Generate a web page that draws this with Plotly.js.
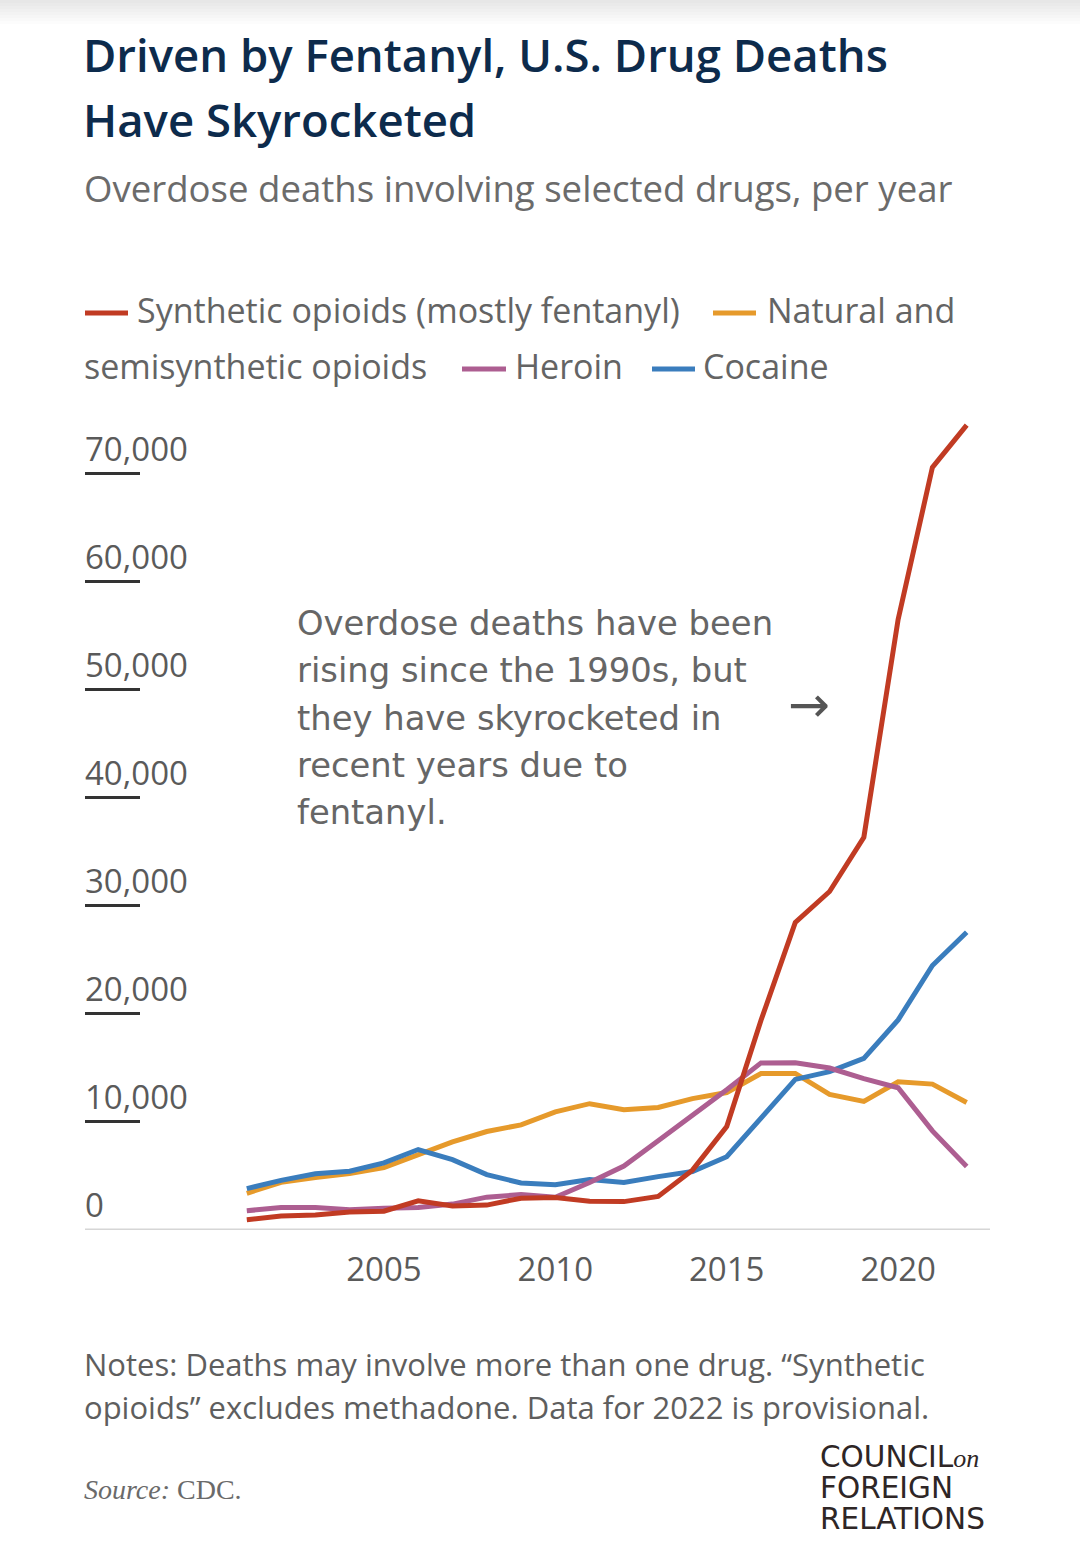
<!DOCTYPE html>
<html>
<head>
<meta charset="utf-8">
<script src="https://cdn.plot.ly/plotly-3.0.1.min.js"></script>
<style>
  html, body { margin: 0; padding: 0; background: #ffffff; }
  #chart { width: 1080px; height: 1556px; }
</style>
</head>
<body>
<div id="chart"></div>
<script>
// Overdose deaths per year by drug involved (CDC)
const years = [2001, 2002, 2003, 2004, 2005, 2006, 2007, 2008, 2009, 2010, 2011,
               2012, 2013, 2014, 2015, 2016, 2017, 2018, 2019, 2020, 2021, 2022];
const syntheticOpioids = [957, 1295, 1400, 1664, 1742, 2707, 2213, 2306, 2946, 3007, 2666,
                          2628, 3105, 5544, 9580, 19413, 28466, 31335, 36359, 56516, 70601, 74500];
const naturalOpioids = [3401, 4410, 4867, 5231, 5774, 7017, 8158, 9119, 9735, 10943, 11693,
                        11140, 11346, 12159, 12727, 14487, 14495, 12552, 11904, 13722, 13503, 11800];
const heroin = [1779, 2089, 2080, 1878, 2009, 2088, 2399, 3041, 3278, 3036, 4397,
                5925, 8257, 10574, 12989, 15469, 15482, 14996, 14019, 13165, 9173, 5871];
const cocaine = [3833, 4599, 5199, 5443, 6208, 7448, 6512, 5129, 4350, 4183, 4681,
                 4404, 4944, 5415, 6784, 10375, 13942, 14666, 15883, 19447, 24486, 27569];

const seriesNames = ['Synthetic opioids (mostly fentanyl)', 'Natural and semisynthetic opioids', 'Heroin', 'Cocaine'];
const seriesColors = ['#c13b23', '#e69a2b', '#ad5e91', '#3a7dbd'];

const yTickVals = [0, 10000, 20000, 30000, 40000, 50000, 60000, 70000];
const xTickVals = [2005, 2010, 2015, 2020];

const titleLines = ['Driven by Fentanyl, U.S. Drug Deaths', 'Have Skyrocketed'];
const subtitleText = 'Overdose deaths involving selected drugs, per year';
const calloutLines = ['Overdose deaths have been', 'rising since the 1990s, but',
                      'they have skyrocketed in', 'recent years due to', 'fentanyl.'];
const noteLines = ['Notes: Deaths may involve more than one drug. \u201cSynthetic',
                   'opioids\u201d excludes methadone. Data for 2022 is provisional.'];
const sourceText = '<i>Source:</i> CDC.';
const markLines = ['COUNCIL<span style="font-family:\'Liberation Serif\',serif;font-style:italic;font-size:26px">on</span>',
                   'FOREIGN', 'RELATIONS'];

// Plot box in page pixels
const FIG_W = 1080, FIG_H = 1556;
const L = 85, R = 990, T = 409, B = 1230;
const W = R - L, H = B - T;
const px = x => (x - L) / W;
const py = y => (B - y) / H;

const SANS = '"Open Sans", "Noto Sans", sans-serif';
const WIDE = '"DejaVu Sans", "Open Sans", sans-serif';
const GREY = '#646464';

// Multi-line text: the base font size sets the line pitch (1.3em),
// the inner spans set the glyph size.
function stack(lines, glyphSize) {
  return lines.map(s => '<span style="font-size:' + glyphSize + 'px">' + s + '</span>').join('<br>');
}

// draw order: orange, blue, purple, red on top
const drawOrder = [1, 3, 2, 0];
const seriesData = [syntheticOpioids, naturalOpioids, heroin, cocaine];
const traces = drawOrder.map(i => ({
  type: 'scatter',
  mode: 'lines',
  name: seriesNames[i],
  x: years,
  y: seriesData[i],
  line: { color: seriesColors[i], width: 5 },
  showlegend: false,
  hoverinfo: 'x+y+name'
}));

const annotations = [];
// text annotations are placed by the page pixel where the glyphs start
function addText(text, x, y, font, extra) {
  annotations.push(Object.assign({
    text: text, xref: 'paper', yref: 'paper', x: px(x - 3), y: py(y),
    xanchor: 'left', yanchor: 'middle', showarrow: false, align: 'left', font: font
  }, extra || {}));
}

addText(subtitleText, 85, 188, { family: SANS, size: 36.6, color: '#6b6b6b' });

// Legend, flowing over two lines
const legendFont = { family: SANS, size: 34, color: GREY };
addText('Synthetic opioids (mostly fentanyl)', 138, 310, legendFont);
addText('Natural and', 768, 310, legendFont);
addText('semisynthetic opioids', 85, 366, legendFont);
addText('Heroin', 516, 366, legendFont);
addText('Cocaine', 704, 366, legendFont);

const swatches = [
  { idx: 0, x0: 85, x1: 128, y: 313 },
  { idx: 1, x0: 713, x1: 756, y: 313 },
  { idx: 2, x0: 462, x1: 506, y: 369 },
  { idx: 3, x0: 652, x1: 695, y: 369 }
];

// Callout text (line pitch 47.3px)
addText(stack(calloutLines, 33.8), 298, 718, { family: WIDE, size: 36.4, color: '#666666' });
addText('\u2192', 789, 705, { family: '"DejaVu Sans", sans-serif', size: 50, color: '#555555' });

// Notes (line pitch 43px) and source
addText(stack(noteLines, 31), 85, 1385, { family: SANS, size: 33.1, color: '#5e5e5e' });
addText(sourceText, 85, 1489, { family: '"Liberation Serif", serif', size: 28, color: '#6a6a6a' });

// Publisher mark (line pitch 31px)
addText(stack(markLines, 29.5), 821, 1488, { family: '"DejaVu Sans", sans-serif', size: 23.8, color: '#2e2626' });

const shapes = [];
// soft shadow along the top edge
for (let k = 0; k < 8; k++) {
  shapes.push({
    type: 'rect', xref: 'paper', yref: 'paper', layer: 'below',
    x0: px(0), x1: px(FIG_W), y0: py(0), y1: py(3 * (k + 1)),
    fillcolor: 'rgba(0,0,0,0.012)', line: { width: 0 }
  });
}
swatches.forEach(s => shapes.push({
  type: 'line', xref: 'paper', yref: 'paper',
  x0: px(s.x0), x1: px(s.x1), y0: py(s.y), y1: py(s.y),
  line: { color: seriesColors[s.idx], width: 5 }
}));
// baseline, drawn over the zero tick
shapes.push({
  type: 'line', xref: 'paper', yref: 'y', layer: 'above',
  x0: 0, x1: 1, y0: 0, y1: 0,
  line: { color: '#d6d6d6', width: 3 }
});

const layout = {
  width: FIG_W, height: FIG_H,
  paper_bgcolor: '#ffffff', plot_bgcolor: '#ffffff',
  margin: { l: L, r: FIG_W - R, t: T, b: FIG_H - B, pad: 0 },
  showlegend: false,
  title: {
    // line pitch 65px
    text: stack(titleLines, 45.5),
    xref: 'container', yref: 'container',
    x: 83 / FIG_W, xanchor: 'left',
    y: 1 - 72 / FIG_H, yanchor: 'top',
    font: { family: SANS, size: 50, weight: 600, color: '#0d2b4c' }
  },
  xaxis: {
    range: [1996.28, 2022.68],
    tickmode: 'array', tickvals: xTickVals, ticktext: xTickVals.map(String),
    ticks: '', showgrid: false, zeroline: false, showline: false,
    tickfont: { family: SANS, size: 33, color: '#5a5a5a' },
    ticklabelstandoff: 17,
    fixedrange: true
  },
  yaxis: {
    range: [0, 76000],
    tickmode: 'array', tickvals: yTickVals,
    ticktext: yTickVals.map(v => v.toLocaleString('en-US')),
    ticks: 'inside', ticklen: 55, tickwidth: 3, tickcolor: '#333333',
    ticklabelposition: 'inside top',
    ticklabelstandoff: -3,
    showgrid: false, zeroline: false, showline: false,
    tickfont: { family: SANS, size: 33, color: '#5a5a5a' },
    fixedrange: true
  },
  annotations: annotations,
  shapes: shapes
};

Plotly.newPlot('chart', traces, layout, { displayModeBar: false, staticPlot: true });
</script>
</body>
</html>
